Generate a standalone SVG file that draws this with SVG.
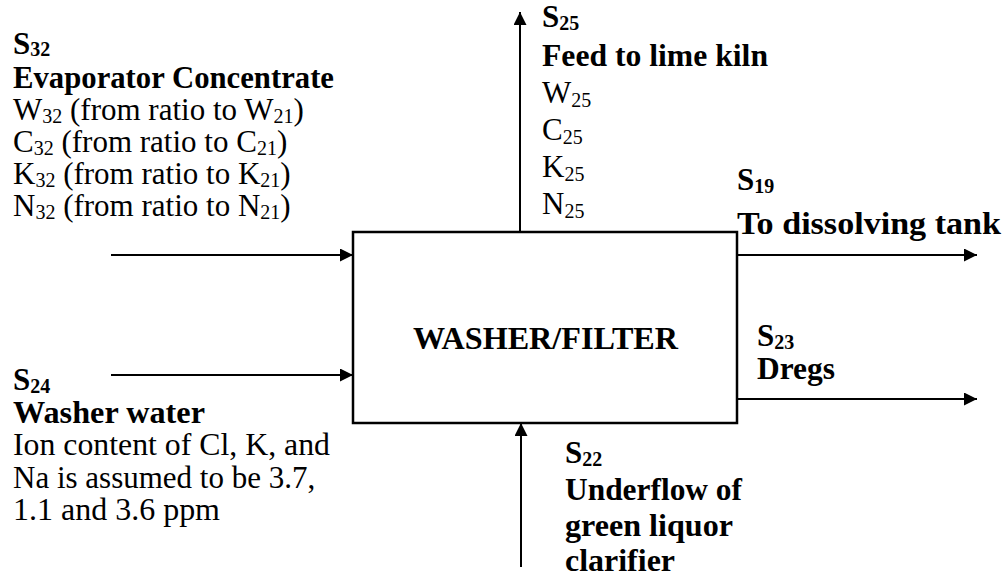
<svg xmlns="http://www.w3.org/2000/svg" width="1008" height="576" viewBox="0 0 1008 576">
<style>
text{font-family:"Liberation Serif","Times New Roman",serif;font-size:31px;fill:#000}
.b{font-weight:bold}
.sb{font-size:20px}
.sr{font-size:20px}
.line{stroke:#000;stroke-width:2;fill:none}
</style>
<defs>
<marker id="ah" viewBox="0 0 10 10" refX="10" refY="5" markerWidth="15" markerHeight="13" markerUnits="userSpaceOnUse" orient="auto"><path d="M0,0L10,5L0,10z" fill="#000"/></marker>
</defs>
<rect width="1008" height="576" fill="#fff"/>
<g id="connectors">
<line class="line" x1="111" y1="255" x2="353" y2="255" marker-end="url(#ah)"/>
<line class="line" x1="111" y1="375" x2="353" y2="375" marker-end="url(#ah)"/>
<line class="line" x1="520" y1="232" x2="520" y2="12" marker-end="url(#ah)"/>
<line class="line" x1="737" y1="255" x2="977" y2="255" marker-end="url(#ah)"/>
<line class="line" x1="737" y1="399" x2="977" y2="399" marker-end="url(#ah)"/>
<line class="line" x1="521" y1="567" x2="521" y2="423" marker-end="url(#ah)"/>
</g>
<g id="washer-filter">
<rect x="353" y="232" width="384" height="191" fill="none" stroke="#000" stroke-width="2.5"/>
<text class="b" x="413" y="349" textLength="265" lengthAdjust="spacingAndGlyphs">WASHER/FILTER</text>
</g>
<g id="s32">
<text class="b" x="13" y="54">S<tspan class="sb" dy="2">32</tspan></text>
<text class="b" x="13" y="88" textLength="321" lengthAdjust="spacingAndGlyphs">Evaporator Concentrate</text>
<text x="13" y="120">W<tspan class="sr" dy="3">32</tspan><tspan dy="-3"> (from ratio to W</tspan><tspan class="sr" dy="3">21</tspan><tspan dy="-3">)</tspan></text>
<text x="13" y="152">C<tspan class="sr" dy="3">32</tspan><tspan dy="-3"> (from ratio to C</tspan><tspan class="sr" dy="3">21</tspan><tspan dy="-3">)</tspan></text>
<text x="13" y="184">K<tspan class="sr" dy="3">32</tspan><tspan dy="-3"> (from ratio to K</tspan><tspan class="sr" dy="3">21</tspan><tspan dy="-3">)</tspan></text>
<text x="13" y="216">N<tspan class="sr" dy="3">32</tspan><tspan dy="-3"> (from ratio to N</tspan><tspan class="sr" dy="3">21</tspan><tspan dy="-3">)</tspan></text>
</g>
<g id="s24">
<text class="b" x="13" y="390">S<tspan class="sb" dy="3">24</tspan></text>
<text class="b" x="13" y="423" textLength="192" lengthAdjust="spacingAndGlyphs">Washer water</text>
<text x="13" y="455" textLength="317" lengthAdjust="spacingAndGlyphs">Ion content of Cl, K, and</text>
<text x="13" y="488">Na is assumed to be 3.7,</text>
<text x="13" y="520" textLength="207" lengthAdjust="spacingAndGlyphs">1.1 and 3.6 ppm</text>
</g>
<g id="s25">
<text class="b" x="542" y="27">S<tspan class="sb" dy="3">25</tspan></text>
<text class="b" x="542" y="66" textLength="226" lengthAdjust="spacingAndGlyphs">Feed to lime kiln</text>
<text x="542" y="103">W<tspan class="sr" dy="4">25</tspan></text>
<text x="542" y="140">C<tspan class="sr" dy="4">25</tspan></text>
<text x="542" y="177">K<tspan class="sr" dy="4">25</tspan></text>
<text x="542" y="214">N<tspan class="sr" dy="4">25</tspan></text>
</g>
<g id="s19">
<text class="b" x="737" y="190">S<tspan class="sb" dy="3">19</tspan></text>
<text class="b" x="737" y="234" textLength="264" lengthAdjust="spacingAndGlyphs">To dissolving tank</text>
</g>
<g id="s23">
<text class="b" x="757" y="346">S<tspan class="sb" dy="3">23</tspan></text>
<text class="b" x="757" y="379" textLength="78" lengthAdjust="spacingAndGlyphs">Dregs</text>
</g>
<g id="s22">
<text class="b" x="565" y="463">S<tspan class="sb" dy="3">22</tspan></text>
<text class="b" x="565" y="500" textLength="177" lengthAdjust="spacingAndGlyphs">Underflow of</text>
<text class="b" x="565" y="536" textLength="168" lengthAdjust="spacingAndGlyphs">green liquor</text>
<text class="b" x="565" y="571" textLength="110" lengthAdjust="spacingAndGlyphs">clarifier</text>
</g>
</svg>
